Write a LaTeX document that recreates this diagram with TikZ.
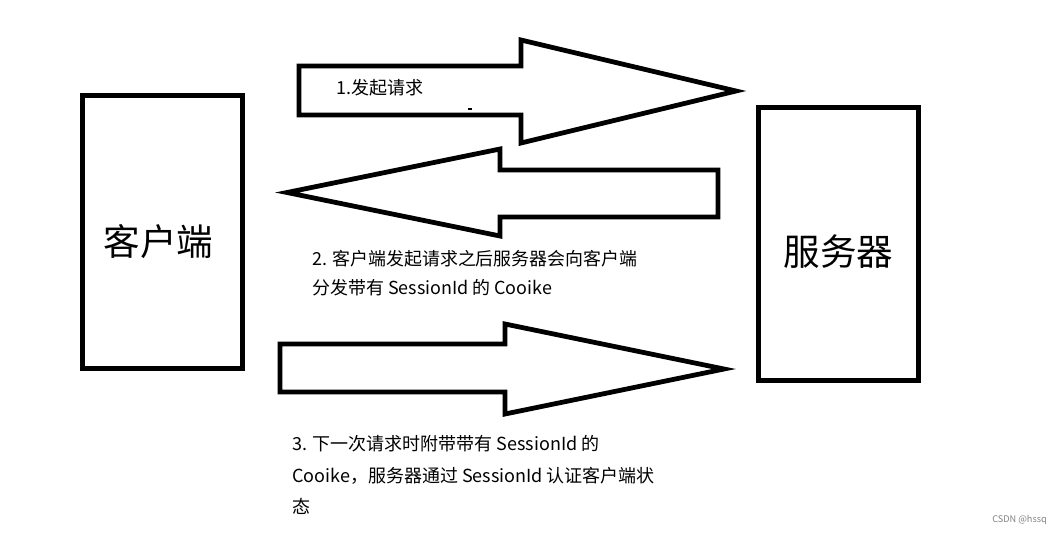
\documentclass[tikz,border=0pt]{standalone}
\usepackage{fontspec}
\setmainfont{Noto Sans CJK SC}
\usetikzlibrary{positioning}

\begin{document}
\begin{tikzpicture}[x=0.025cm,y=-0.025cm,
  endbox/.style={draw,line width=3.5pt,minimum width=4cm,minimum height=6.825cm,inner sep=0pt},
  boxlabel/.style={font=\fontsize{26pt}{30pt}\selectfont,inner sep=0pt},
  blockarrow/.style={draw,line width=3.4pt,miter limit=10},
  note/.style={font=\fontsize{12.5pt}{21pt}\selectfont,align=left,inner sep=0pt,anchor=west}]
\useasboundingbox (0,0) rectangle (1063,535);
% client and server
\node[endbox] (client) at (162.5,232) {};
\node[endbox] (server) at (838.5,244) {};
\node[boxlabel] (clientname) at ([xshift=-0.1cm,yshift=-0.25cm]client.center) {客户端};
\node[boxlabel] (servername) at ([yshift=-0.2cm]server.center) {服务器};
% request arrow
\draw[blockarrow] (299,66) -- (521,66) -- (521,40) -- (736,91) -- (521,143) -- (521,115) -- (299,115) -- cycle;
\node[note,font=\fontsize{12.8pt}{21pt}\selectfont] (step1) at (336,88) {1.发起请求};
\draw[line width=0.8pt] (468,109) -- (472,109);
% cookie arrow back to client
\draw[blockarrow] (718,170) -- (500,170) -- (500,149) -- (287,192.5) -- (500,236) -- (500,217) -- (718,217) -- cycle;
\node[note,font=\fontsize{12.75pt}{20.6pt}\selectfont] (step2) at (312,273.5) {2. 客户端发起请求之后服务器会向客户端\\分发带有 SessionId 的 Cooike};
% next request with cookie
\draw[blockarrow] (280,344) -- (505,344) -- (505,324) -- (724,369) -- (505,414) -- (505,392) -- (280,392) -- cycle;
\node[note,font=\fontsize{12.8pt}{22.5pt}\selectfont] (step3) at (292,475) {3. 下一次请求时附带带有 SessionId 的\\Cooike，服务器通过 SessionId 认证客户端状\\态};
% watermark
\node[font=\fontsize{6.5pt}{8pt}\selectfont,text=gray,anchor=east,inner sep=0pt] (mark) at (1047,520) {CSDN @hssq};
\end{tikzpicture}
\end{document}
